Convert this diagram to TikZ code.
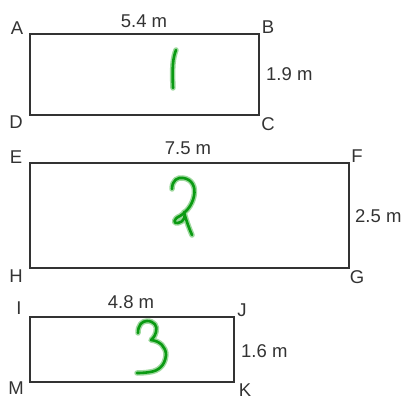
\documentclass[tikz,border=0pt]{standalone}
\usepackage{fontspec}
\setmainfont{Liberation Sans}
\definecolor{edge}{HTML}{333333}
\definecolor{ink}{HTML}{0A9A12}
\definecolor{halo}{HTML}{9ED89E}
\begin{document}
\begin{tikzpicture}[x=1pt,y=-1pt,
  lbl/.style={inner sep=0pt,font=\fontsize{18.5}{18.5}\selectfont,text=edge},
  box/.style={draw=edge,line width=1.4pt},
  haloline/.style={draw=halo,line width=5.5pt,line cap=round,line join=round},
  inkline/.style={draw=ink,line width=2.6pt,line cap=round,line join=round}]
\useasboundingbox (0,0) rectangle (410,401);
% rectangle 1
\coordinate (A) at (30,34); \coordinate (B) at (259,34);
\coordinate (C) at (259,115); \coordinate (D) at (30,115);
\draw[box] (A) -- (B) -- (C) -- (D) -- cycle;
\node[lbl] (lA) at (17,28) {A};
\node[lbl] (lB) at (268,27) {B};
\node[lbl] (lC) at (268,124) {C};
\node[lbl] (lD) at (16,122) {D};
\node[lbl] (w1) at (144,21) {5.4 m};
\node[lbl,anchor=west] (h1) at (266,74) {1.9 m};
% rectangle 2
\coordinate (E) at (30,163); \coordinate (F) at (349,163);
\coordinate (G) at (349,268); \coordinate (H) at (30,268);
\draw[box] (E) -- (F) -- (G) -- (H) -- cycle;
\node[lbl] (lE) at (16,157) {E};
\node[lbl] (lF) at (357,156) {F};
\node[lbl] (lG) at (357,277) {G};
\node[lbl] (lH) at (16,276) {H};
\node[lbl] (w2) at (188,148) {7.5 m};
\node[lbl,anchor=west] (h2) at (355,216) {2.5 m};
% rectangle 3
\coordinate (I) at (30,317); \coordinate (J) at (234,317);
\coordinate (K) at (234,382); \coordinate (M) at (30,382);
\draw[box] (I) -- (J) -- (K) -- (M) -- cycle;
\node[lbl] (lI) at (19,308) {I};
\node[lbl] (lJ) at (242,310) {J};
\node[lbl] (lK) at (245,390) {K};
\node[lbl] (lM) at (16,388) {M};
\node[lbl] (w3) at (131,302) {4.8 m};
\node[lbl,anchor=west] (h3) at (241,351) {1.6 m};
% handwritten numbers
\foreach \s in {haloline,inkline}{
  \draw[\s] (176,50) .. controls (173,58) and (172,66) .. (173,88);
  \draw[\s] (172,189) .. controls (172,180) and (178,177) .. (183,178)
     .. controls (192,179) and (196,187) .. (194,196)
     .. controls (192,206) and (186,212) .. (180,216)
     .. controls (173,219) and (173,224) .. (178,223)
     .. controls (184,222) and (186,216) .. (184,212)
     .. controls (186,220) and (189,228) .. (192,235);
  \draw[\s] (138,333) .. controls (138,325) and (142,321) .. (147,321)
     .. controls (154,321) and (158,326) .. (156,332)
     .. controls (155,337) and (151,340) .. (151,340)
     .. controls (160,341) and (166,347) .. (166,355)
     .. controls (165,366) and (158,371) .. (150,372)
     .. controls (144,373) and (139,373) .. (137,373);
}
\end{tikzpicture}
\end{document}
